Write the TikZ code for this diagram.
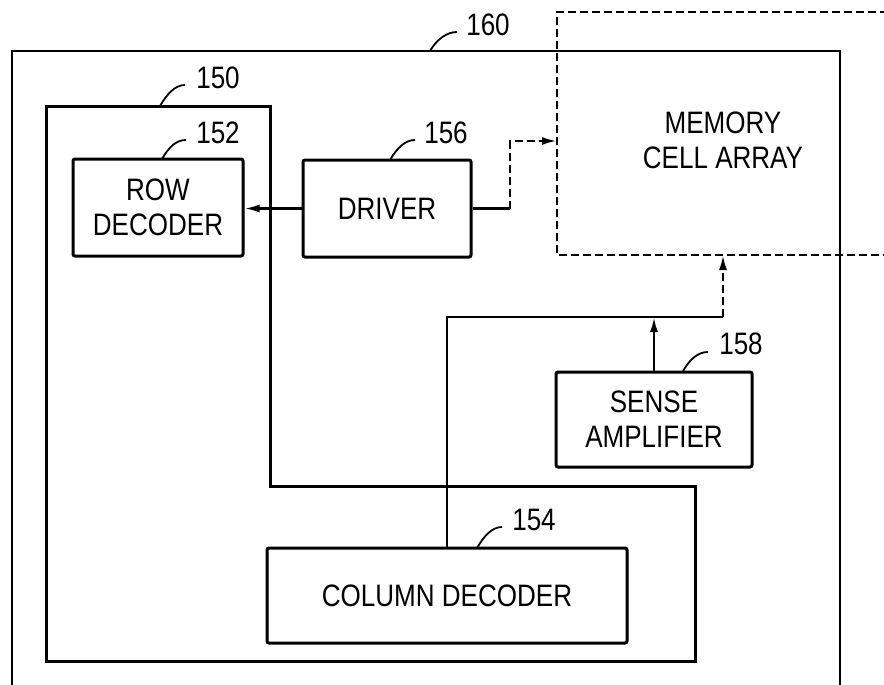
\documentclass[tikz,border=0pt]{standalone}
\usepackage{fontspec}
\setmainfont[FakeStretch=0.84]{Liberation Sans}
\usetikzlibrary{arrows.meta,calc}
\begin{document}
\begin{tikzpicture}[x=0.5pt,y=-0.5pt,
  blk/.style={draw, line width=1.5pt, rounded corners=1pt, align=center, inner sep=0pt},
  txt/.style={font=\fontsize{15.5}{17.5}\selectfont, align=center, inner sep=0pt},
  wire/.style={line width=1.2pt},
  dwire/.style={line width=1.2pt, dash pattern=on 4pt off 2pt},
  tip/.style={-{Latex[length=7.5pt,width=4pt]}},
  leader/.style={line width=0.9pt}]
\clip (0,0) rectangle (884,685);
% outer frame 160
\draw[line width=1pt] (12,700) -- (12,51) -- (840,51) -- (840,700);
% block 150
\draw[line width=1.5pt] (46,106) -- (270,106) -- (270,486) -- (695,486) -- (695,661) -- (46,661) -- cycle;
% memory cell array (dashed, open to the right)
\draw[line width=1.1pt, dash pattern=on 4pt off 2pt] (900,12) -- (557,12) -- (557,255) -- (900,255);
\coordinate (memL) at (557,141);
\coordinate (memB) at (723,255);
\node[txt] (mem) at (723,140) {MEMORY\\CELL ARRAY};
% blocks
\node[blk, txt, minimum width=85pt, minimum height=48.5pt] (row) at (158,207.5) {ROW\\DECODER};
\node[blk, txt, minimum width=84pt, minimum height=48.5pt] (drv) at (387,208.5) {DRIVER};
\node[blk, txt, minimum width=98pt, minimum height=47.5pt] (sa) at (654,419.5) {SENSE\\AMPLIFIER};
\node[blk, txt, minimum width=180pt, minimum height=47.5pt] (col) at (447,595.5) {COLUMN DECODER};
% connectors
\draw[wire, tip] (drv.west) -- (drv.west -| row.east);
\draw[wire] (drv.east) -- (510,208.5) coordinate (j1);
\draw[dwire, tip] (j1) -- (j1 |- memL) -- (memL);
\draw[wire] (col.north) -- (447,317) coordinate (j2) -- (723,317) coordinate (j3);
\draw[dwire, tip] (j3) -- (memB);
\draw[wire, tip] (sa.north) -- (sa.north |- j2);
% reference numerals
\node[txt] (n160) at (488,25) {160};
\draw[leader] (430,51) .. controls +(7,-12) and +(-10,0) .. (457,32);
\node[txt] (n150) at (218,78) {150};
\draw[leader] (160,106) .. controls +(7,-12) and +(-10,0) .. (185,85);
\node[txt] (n152) at (218,133) {152};
\draw[leader] (162,159) .. controls +(7,-12) and +(-10,0) .. (186,140);
\node[txt] (n156) at (446,133) {156};
\draw[leader] (390,160) .. controls +(7,-12) and +(-10,0) .. (415,140);
\node[txt] (n158) at (741,344) {158};
\draw[leader] (683,371) .. controls +(7,-12) and +(-10,0) .. (708,352);
\node[txt] (n154) at (534,520) {154};
\draw[leader] (477,548) .. controls +(7,-12) and +(-10,0) .. (502,527);
\end{tikzpicture}
\end{document}
